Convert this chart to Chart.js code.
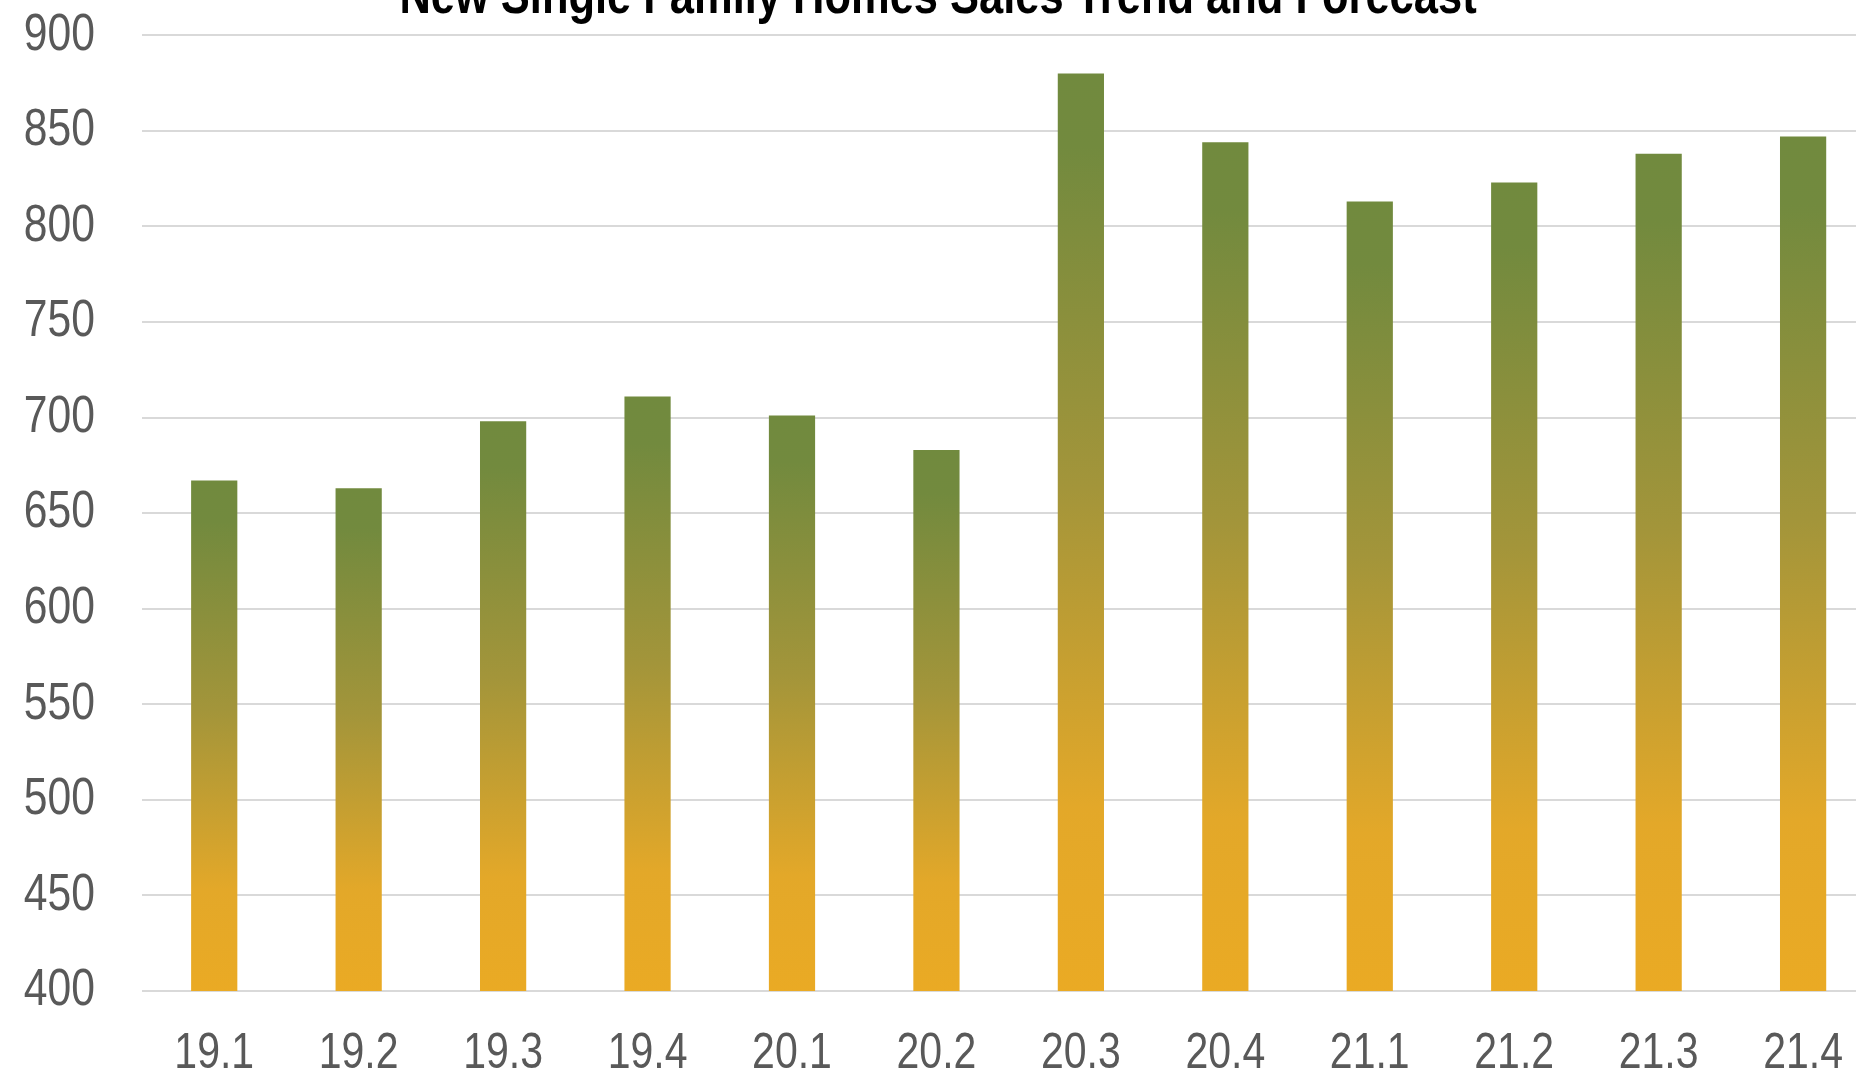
<!DOCTYPE html>
<html>
<head>
<meta charset="utf-8">
<script src="https://cdn.jsdelivr.net/npm/chart.js@4/dist/chart.umd.min.js"></script>
<style>
  html, body { margin: 0; padding: 0; background: #ffffff; overflow: hidden; width: 1856px; height: 1076px; }
  #wrap { position: absolute; left: 0; top: -43px; width: 1876px; height: 1160px; }
</style>
</head>
<body>
<div id="wrap"><canvas id="c"></canvas></div>
<script>
const titleText = 'New Single Family Homes Sales Trend and Forecast';
const categories = ['19.1', '19.2', '19.3', '19.4', '20.1', '20.2', '20.3', '20.4', '21.1', '21.2', '21.3', '21.4'];
const sales = [667, 663, 698, 711, 701, 683, 880, 844, 813, 823, 838, 847];
const yMin = 400;
const yMax = 900;
const yStep = 50;

const FONT = '"Liberation Sans", Arial, sans-serif';
const NARROW = 0.82; // emulate a narrow (condensed) face horizontally

const canvas = document.getElementById('c');
const c2d = canvas.getContext('2d');
const origFill = c2d.fillText.bind(c2d);
const origMeasure = c2d.measureText.bind(c2d);
c2d.fillText = function (text, x, y, maxWidth) {
  this.save();
  this.translate(x, y);
  this.scale(NARROW, 1);
  if (maxWidth !== undefined) origFill(text, 0, 0, maxWidth / NARROW);
  else origFill(text, 0, 0);
  this.restore();
};
c2d.measureText = function (text) {
  const m = origMeasure(text);
  return {
    width: m.width * NARROW,
    actualBoundingBoxAscent: m.actualBoundingBoxAscent,
    actualBoundingBoxDescent: m.actualBoundingBoxDescent,
    actualBoundingBoxLeft: m.actualBoundingBoxLeft * NARROW,
    actualBoundingBoxRight: m.actualBoundingBoxRight * NARROW
  };
};

function barGradient(context) {
  const chart = context.chart;
  const area = chart.chartArea;
  if (!area) return '#e9a924';
  const y = chart.scales.y;
  const v = context.parsed ? context.parsed.y : context.raw;
  const top = y.getPixelForValue(v);
  const bottom = y.getPixelForValue(yMin);
  if (!isFinite(top) || !isFinite(bottom) || bottom - top < 1) return '#e9a924';
  const g = chart.ctx.createLinearGradient(0, top, 0, bottom);
  g.addColorStop(0, '#718a3e');
  g.addColorStop(0.08, '#728a3e');
  g.addColorStop(0.45, '#a3953a');
  g.addColorStop(0.8, '#e3a829');
  g.addColorStop(1, '#eaaa24');
  return g;
}

new Chart(canvas, {
  type: 'bar',
  data: {
    labels: categories,
    datasets: [{
      label: 'Sales',
      data: sales,
      backgroundColor: barGradient,
      borderWidth: 0,
      barPercentage: 0.32,
      categoryPercentage: 1.0
    }]
  },
  options: {
    responsive: true,
    maintainAspectRatio: false,
    animation: false,
    layout: { padding: 0 },
    plugins: {
      legend: { display: false },
      tooltip: { enabled: false },
      title: {
        display: true,
        text: titleText,
        color: '#000000',
        font: { family: FONT, size: 53, weight: 'bold', lineHeight: 1.2 },
        padding: { top: 0, bottom: 5 }
      }
    },
    scales: {
      x: {
        grid: { display: false, drawTicks: false },
        border: { display: false },
        ticks: {
          color: '#595959',
          font: { family: FONT, size: 50, lineHeight: 1.2 },
          padding: 33,
          maxRotation: 0,
          autoSkip: false
        }
      },
      y: {
        min: yMin,
        max: yMax,
        afterFit: (scale) => { scale.width = 142; },
        grid: { color: '#d9d9d9', lineWidth: 2, drawTicks: false },
        border: { display: false },
        ticks: {
          stepSize: yStep,
          color: '#595959',
          font: { family: FONT, size: 52, lineHeight: 1.2 },
          padding: 47
        }
      }
    }
  }
});
</script>
</body>
</html>
